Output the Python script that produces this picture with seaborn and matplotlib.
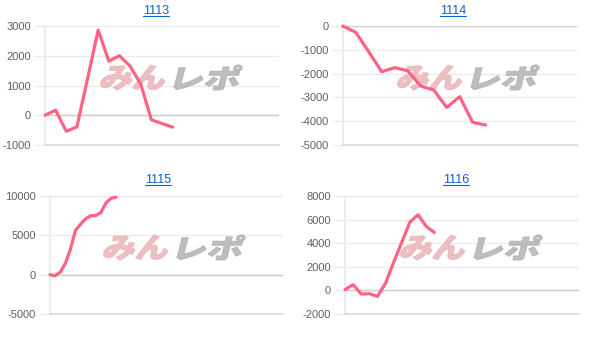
import numpy as np
import pandas as pd
import matplotlib
matplotlib.use("Agg")
import matplotlib.pyplot as plt
import seaborn as sns
from matplotlib.textpath import TextPath
from matplotlib.patches import PathPatch
from matplotlib.font_manager import FontProperties
from matplotlib.transforms import Affine2D
from matplotlib.lines import Line2D

# ---------------- data ----------------
titles = ["1113", "1114", "1115", "1116"]
vals_1113 = [0, 170, -540, -390, 1230, 2860, 1820, 2000, 1650, 1050, -150, -280, -400]
vals_1114 = [0, -265, -1080, -1920, -1750, -1880, -2520, -2690, -3420, -2970, -4050, -4160]
vals_1115 = [0, -130, 300, 1400, 3200, 5600, 6400, 7100, 7500, 7500, 7900, 9100, 9700, 9850]
vals_1116 = [60, 480, -310, -280, -510, 630, 2400, 4100, 5800, 6410, 5420, 4910]
series = [vals_1113, vals_1114, vals_1115, vals_1116]
x_slots = [22, 18, 45.8, 28.8]
yticks = [
    [-1000, 0, 1000, 2000, 3000],
    [-5000, -4000, -3000, -2000, -1000, 0],
    [-5000, 0, 5000, 10000],
    [-2000, 0, 2000, 4000, 6000, 8000],
]

# ---------------- layout (pixels) ----------------
W, H = 604, 345
pos = [(45, 26, 279, 145), (342.7, 26, 576.7, 145),
       (50, 196, 282.7, 314), (345, 196, 579, 314)]
title_pos = [(156, 11), (452.7, 11), (158, 180), (456, 180)]
wm_pos = [(99, 65), (396, 65), (102, 235), (399, 235)]

LINE = "#ff6384"
GRID = "#ebebeb"
ZERO = "#cccccc"
TICK = "#606060"
LINK = "#0b63c9"

sns.set_theme(style="white")
plt.rcParams["font.family"] = ["Liberation Sans", "DejaVu Sans"]

fig = plt.figure(figsize=(W / 100, H / 100), dpi=100)
fig.patch.set_facecolor("white")

px2fig = Affine2D().scale(1 / W, 1 / H) + fig.transFigure

fp_wm = FontProperties(family="Noto Sans CJK JP", weight="black")


def add_wm(ax, text, x0, ytop, w, h, color, alpha):
    path = TextPath((0, 0), text, size=1, prop=fp_wm)
    ext = path.get_extents()
    ang = 14
    sk = np.tan(np.radians(ang)) * h
    tr = (Affine2D().translate(-ext.x0, -ext.y0)
          .scale((w - sk) / ext.width, h / ext.height)
          .skew_deg(ang, 0)
          .translate(x0, H - ytop - h)) + px2fig
    patch = PathPatch(path, transform=tr, facecolor=color, edgecolor=color,
                      linewidth=0.8, alpha=alpha, zorder=1.6, clip_on=False)
    ax.add_artist(patch)


for i in range(4):
    l, t, r, b = pos[i]
    ax = fig.add_axes([l / W, 1 - b / H, (r - l) / W, (b - t) / H])
    ax.set_facecolor("none")
    df = pd.DataFrame({"x": np.arange(len(series[i])), "y": series[i]})
    sns.lineplot(data=df, x="x", y="y", ax=ax, color=LINE, linewidth=2.3,
                 zorder=3, clip_on=False)
    ax.set_xlim(0, x_slots[i])
    ax.set_ylim(yticks[i][0], yticks[i][-1])
    ax.set_yticks(yticks[i])
    ax.set_yticklabels([str(v) for v in yticks[i]], fontsize=8, color=TICK)
    ax.set_xticks([])
    ax.set_xlabel("")
    ax.set_ylabel("")
    ax.yaxis.grid(True, color=GRID, linewidth=1)
    ax.tick_params(axis="y", length=8, width=1, color=GRID, pad=2, left=True)
    for s in ["top", "right"]:
        ax.spines[s].set_visible(False)
    ax.spines["left"].set_color(GRID)
    ax.spines["bottom"].set_color("#d9d9d9")
    ax.axhline(0, color=ZERO, linewidth=1, zorder=1.7)

    wx, wy = wm_pos[i]
    add_wm(ax, "みん", wx, wy, 70, 25, "#eab4b8", 0.85)
    add_wm(ax, "レポ", wx + 74, wy, 70, 25, "#b3b3b3", 0.85)

# titles with underline
fig.canvas.draw()
renderer = fig.canvas.get_renderer()
for i in range(4):
    tx, ty = title_pos[i]
    txt = fig.text(tx / W, 1 - ty / H, titles[i], ha="center", va="center",
                   fontsize=9, color=LINK)
    bb = txt.get_window_extent(renderer=renderer)
    yline = bb.y0 + 1.0
    fig.add_artist(Line2D([bb.x0 / W, bb.x1 / W], [yline / H, yline / H],
                          transform=fig.transFigure, color=LINK, linewidth=0.8))

fig.savefig("out.png", dpi=100, facecolor="white")
